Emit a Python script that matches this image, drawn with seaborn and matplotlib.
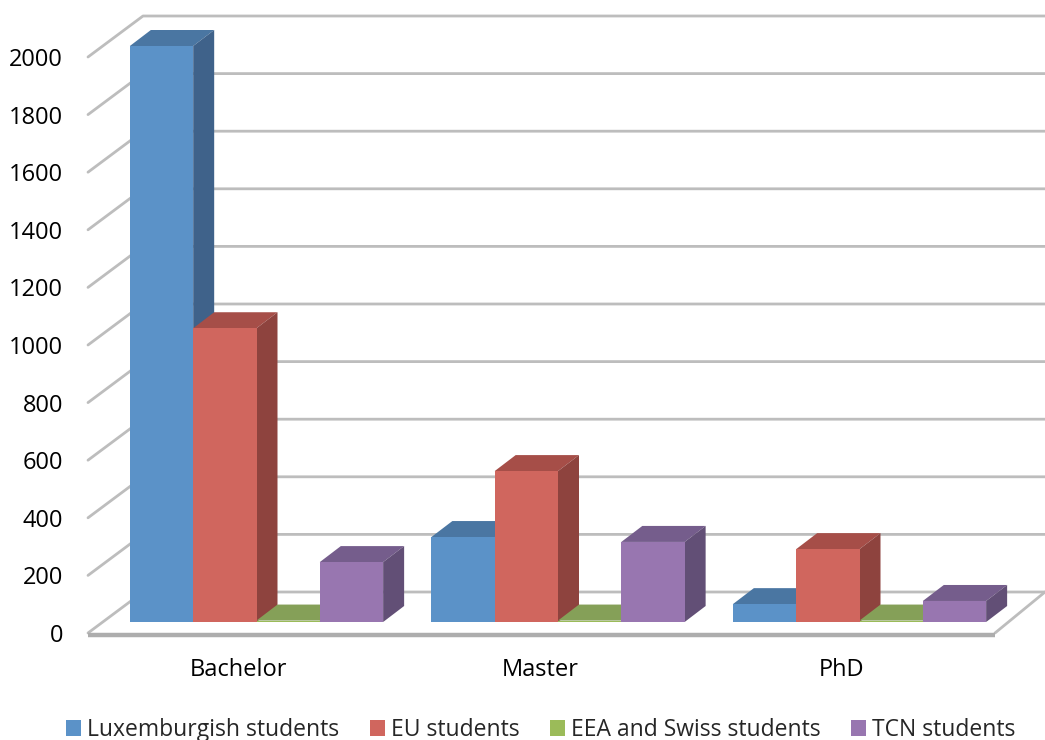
import matplotlib
matplotlib.use('Agg')
import matplotlib.pyplot as plt
import matplotlib.transforms as mtransforms
import pandas as pd
import seaborn as sns

levels = ['Bachelor', 'Master', 'PhD']
groups = ['Luxemburgish students', 'EU students', 'EEA and Swiss students', 'TCN students']
luxemburgish = [2000, 295, 62]
eu = [1020, 524, 253]
eea_swiss = [5, 5, 5]
tcn = [208, 278, 73]
y_ticks = list(range(0, 2001, 200))

front_colors = ['#5b92c8', '#d0665e', '#9bbb59', '#9876b0']
top_colors = ['#4a76a2', '#a64e48', '#85a058', '#755d8c']
side_colors = ['#3f628a', '#8e433e', '#71884b', '#624f76']

W, H = 1045, 740
PX_X = 301.5      # pixels per category
PX_Y = 0.288      # pixels per student
X0 = 256.5        # pixel of the first category


def dx(px):
    return px / PX_X


def dy(px):
    return px / PX_Y


df = pd.DataFrame({
    'level': levels * 4,
    'group': [g for g in groups for _ in levels],
    'students': luxemburgish + eu + eea_swiss + tcn,
})

sns.set_theme(style='white')
plt.rcParams['font.family'] = ['Open Sans', 'DejaVu Sans']

fig = plt.figure(figsize=(W / 100, H / 100), dpi=100)
ax = fig.add_axes([88 / W, (H - 622) / H, (W - 88) / W, (622 - 46) / H])
sns.barplot(data=df, x='level', y='students', hue='group', hue_order=groups,
            order=levels, palette=front_colors, saturation=1, width=0.84,
            linewidth=0, ax=ax, zorder=5)
ax.set_xlim((88 - X0) / PX_X, (W - X0) / PX_X)
ax.set_ylim(0, 2000)
ax.set_xlabel('')
ax.set_ylabel('')
ax.set_yticks(y_ticks)
sns.despine(ax=ax, left=True, bottom=True, top=True, right=True)

# walls and floor of the 3D box
xl = ax.get_xlim()
grid_color = '#bdbdbd'
for v in y_ticks[1:]:
    ax.plot([xl[0], xl[0] + dx(55), xl[1]],
            [v - dy(11), v + dy(30), v + dy(30)],
            color=grid_color, lw=2, clip_on=False, zorder=1)
x_back = xl[0] + dx(55)
x_front_r = xl[0] + dx(907)
ax.plot([x_front_r, xl[1]], [dy(-11), dy(30)], color=grid_color, lw=2, clip_on=False, zorder=1)
ax.plot([xl[0], x_back, xl[1]], [dy(-11), dy(30), dy(30)], color=grid_color, lw=2, clip_on=False, zorder=1)
ax.plot([xl[0], x_front_r], [dy(-12.5), dy(-12.5)], color='#adadad', lw=3.2, clip_on=False,
        zorder=2, solid_capstyle='butt')

# depth faces for each seaborn bar
n_levels = len(levels)
for i, bar in enumerate(ax.patches[:n_levels * len(groups)]):
    g = i // n_levels
    x0, x1 = bar.get_x(), bar.get_x() + bar.get_width()
    top = bar.get_height()
    ox, oy = dx(21), dy(16)
    ax.fill([x0, x0 + ox, x1 + ox, x1], [top, top + oy, top + oy, top],
            color=top_colors[g], lw=0, clip_on=False, zorder=4)
    ax.fill([x1, x1 + ox, x1 + ox, x1], [0, oy, top + oy, top],
            color=side_colors[g], lw=0, clip_on=False, zorder=4)

ax.tick_params(axis='both', length=0, labelsize=17, labelcolor='black')
ax.tick_params(axis='y', pad=18)
ax.tick_params(axis='x', pad=26)
for lab in ax.get_yticklabels():
    lab.set_transform(lab.get_transform() + mtransforms.ScaledTranslation(0, -0.11, fig.dpi_scale_trans))
for lab in ax.get_xticklabels():
    lab.set_transform(lab.get_transform() + mtransforms.ScaledTranslation(-0.175, 0, fig.dpi_scale_trans))

handles, labels = ax.get_legend_handles_labels()
ax.legend(handles, labels, loc='center', bbox_to_anchor=(541 / W, 10 / H),
          bbox_transform=fig.transFigure, ncol=4, frameon=False, fontsize=16.5,
          handlelength=0.66, handleheight=0.66, handletextpad=0.27, columnspacing=1.32,
          borderpad=0, borderaxespad=0)

fig.savefig('out.png', dpi=100)
